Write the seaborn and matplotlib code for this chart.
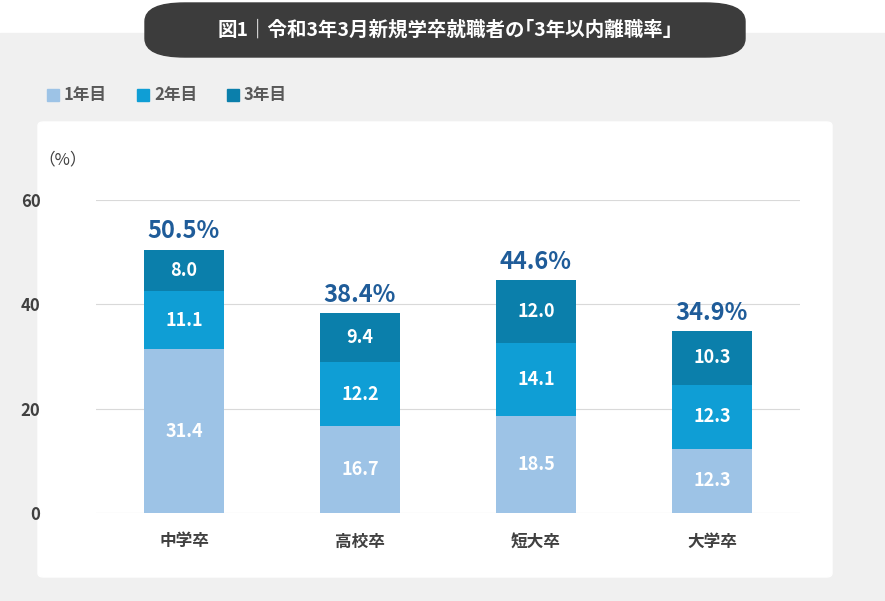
import matplotlib
matplotlib.use("Agg")
import matplotlib.pyplot as plt
from matplotlib.patches import FancyBboxPatch
import seaborn as sns
import numpy as np
import pandas as pd

categories = ["中学卒", "高校卒", "短大卒", "大学卒"]
year1 = [31.4, 16.7, 18.5, 12.3]
year2 = [11.1, 12.2, 14.1, 12.3]
year3 = [8.0, 9.4, 12.0, 10.3]
totals = ["50.5", "38.4", "44.6", "34.9"]
series_names = ["1年目", "2年目", "3年目"]
colors = ["#9dc3e6", "#0f9ed5", "#0b7fab"]

plt.rcParams["font.family"] = "Noto Sans CJK JP"
fig = plt.figure(figsize=(8.85, 6.01), dpi=100)
W, H = 885, 601
def fx(x): return x / W
def fy(y): return 1 - y / H

# backgrounds
fig.patches.append(plt.Rectangle((0, 0), 1, fy(33), transform=fig.transFigure, color="#f0f0f0", zorder=0))
fig.patches.append(FancyBboxPatch((fx(38), fy(577)), fx(794), 455 / H, boxstyle="round,pad=0,rounding_size=0.006",
                                  transform=fig.transFigure, color="white", zorder=0.5))
fig.patches.append(FancyBboxPatch((fx(145), fy(57)), fx(600), 54 / H, boxstyle="round,pad=0,rounding_size=0.045",
                                  transform=fig.transFigure, color="#3c3c3c", zorder=1, mutation_aspect=H / W))
fig.text(fx(445), fy(30), "図1｜令和3年3月新規学卒就職者の｢3年以内離職率｣", color="white", fontsize=14,
         fontweight="bold", ha="center", va="center", zorder=2)

# legend
for i, (n, c) in enumerate(zip(series_names, colors)):
    x0 = 47 + i * 90
    fig.patches.append(plt.Rectangle((fx(x0), fy(101)), fx(12), 12 / H, transform=fig.transFigure, color=c, zorder=2))
    fig.text(fx(x0 + 17), fy(95), n, fontsize=12, fontweight="bold", color="#595959", va="center", zorder=2)

ax = fig.add_axes([fx(96), fy(513), fx(704), 313 / H])
ax.set_facecolor("none")
ax.set_zorder(3)
df = pd.DataFrame({"cat": categories, "y1": year1, "y2": year2, "y3": year3})
b1 = np.array(year1); b2 = b1 + np.array(year2)
sns.barplot(data=df, x="cat", y="y1", color=colors[0], width=0.455, ax=ax, saturation=1)
sns.barplot(data=df, x="cat", y="y2", bottom=b1, color=colors[1], width=0.455, ax=ax, saturation=1)
sns.barplot(data=df, x="cat", y="y3", bottom=b2, color=colors[2], width=0.455, ax=ax, saturation=1)
for i in range(4):
    for v, b in zip([year1[i], year2[i], year3[i]], [0, b1[i], b2[i]]):
        ax.text(i, b + v / 2, f"{v:.1f}", ha="center", va="center", color="white", fontsize=13, fontweight="bold")
    ax.text(i, b2[i] + year3[i] + 1.2, totals[i] + "%", ha="center", va="bottom", color="#1f5c99",
            fontsize=17, fontweight="bold")
ax.set_xlim(-0.5, 3.5)
ax.set_ylim(0, 60)
ax.set_yticks([0, 20, 40, 60])
ax.yaxis.grid(True, color="#d9d9d9", linewidth=0.8)
ax.set_axisbelow(True)
for s in ax.spines.values():
    s.set_visible(False)
ax.tick_params(length=0)
ax.tick_params(axis="y", pad=40, labelsize=12, labelcolor="#404040")
ax.tick_params(axis="x", pad=14, labelsize=12, labelcolor="#404040")
for t in ax.get_xticklabels() + ax.get_yticklabels():
    t.set_fontweight("bold")
ax.set_xlabel(""); ax.set_ylabel("")
fig.text(fx(63), fy(160), "（%）", fontsize=12, color="#404040", ha="center", va="center", zorder=4)
fig.savefig("out.png", dpi=100)
